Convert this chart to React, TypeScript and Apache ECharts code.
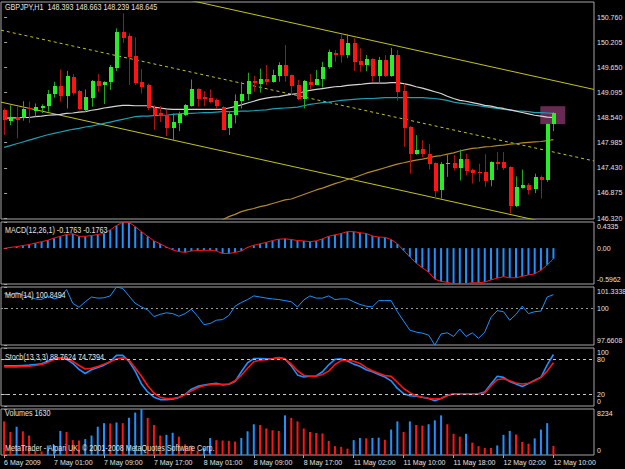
import React, { useEffect, useRef } from 'react';
import * as echarts from 'echarts';

// ---- time axis (H1 bars, one label every 8 bars) ----
const timeLabels = ['6 May 2009', '7 May 01:00', '7 May 09:00', '7 May 17:00', '8 May 01:00', '8 May 09:00', '8 May 17:00', '11 May 02:00', '11 May 10:00', '11 May 18:00', '12 May 02:00', '12 May 10:00'];
const labelBars = [0, 8, 16, 24, 32, 40, 48, 56, 64, 72, 80, 88];
const barSlots = 95; // visible slots incl. right-hand chart shift

// ---- GBPJPY H1 prices ----
const opens = [148.70,148.47,148.56,148.52,148.75,148.70,148.74,148.79,149.05,149.23,149.01,149.44,149.12,148.72,148.96,149.34,149.27,149.31,149.64,150.44,150.34,149.90,149.33,149.26,148.76,148.65,148.59,148.30,148.42,148.59,148.81,149.17,149.00,148.98,148.92,148.78,148.30,148.61,148.91,149.05,149.34,149.29,149.39,149.33,149.45,149.70,149.48,149.26,148.95,149.33,149.26,149.39,149.64,149.97,150.27,149.92,150.19,149.79,149.70,149.83,149.45,149.81,149.45,149.92,149.12,148.33,147.74,147.85,147.73,147.54,146.93,147.51,147.54,147.43,147.63,147.39,147.34,147.34,147.17,147.56,147.56,147.45,146.58,146.98,147.06,146.97,147.23,147.15,148.393];
const highs = [148.74,148.81,148.78,148.90,148.89,148.85,148.83,149.15,149.33,149.60,149.57,149.50,149.15,149.16,149.37,149.50,149.34,149.70,150.51,150.84,150.40,150.31,149.61,149.29,148.81,148.79,148.70,148.63,148.67,148.84,149.38,149.18,149.12,149.16,148.96,148.79,148.67,149.05,149.33,149.53,149.46,149.62,149.70,149.60,149.76,150.14,149.49,149.37,149.37,149.50,149.59,149.77,150.04,150.03,150.38,150.38,150.29,150.07,149.92,149.85,149.88,149.92,150.08,150.03,149.29,148.35,148.15,148.04,147.96,147.55,147.56,147.71,147.71,147.83,147.74,147.41,147.52,147.73,147.57,147.78,147.78,147.46,147.24,147.39,147.09,147.30,147.26,148.41,148.663];
const lows = [148.15,148.37,148.08,148.47,148.42,148.56,148.64,148.67,148.98,148.89,148.74,149.03,148.70,148.67,148.78,149.11,148.84,149.15,149.57,150.19,149.26,149.26,149.07,148.70,148.27,148.44,148.13,148.04,148.24,148.57,148.78,148.78,148.79,148.85,148.74,148.27,148.15,148.41,148.74,148.92,149.11,149.09,149.26,149.31,149.33,149.33,149.03,148.92,148.74,149.16,149.25,149.20,149.62,149.77,149.75,149.85,149.57,149.55,149.56,149.33,149.29,149.44,149.44,148.91,147.89,147.30,147.72,147.67,147.39,146.73,146.75,147.23,147.37,147.15,147.26,147.08,147.12,147.01,147.02,147.38,147.38,146.42,146.56,146.97,146.84,146.87,146.75,147.12,148.239];
const closes = [148.47,148.56,148.50,148.72,148.72,148.78,148.79,149.06,149.23,149.02,149.46,149.09,148.72,149.00,149.34,149.23,149.33,149.65,150.44,150.31,149.87,149.31,149.23,148.76,148.61,148.58,148.30,148.44,148.61,148.81,149.18,148.96,148.95,148.90,148.78,148.28,148.61,148.91,149.06,149.34,149.29,149.39,149.33,149.48,149.70,149.45,149.23,148.94,149.34,149.26,149.39,149.65,149.98,149.92,149.92,150.18,149.77,149.70,149.83,149.45,149.81,149.45,149.92,149.11,148.31,147.74,147.83,147.73,147.52,146.93,147.51,147.54,147.43,147.63,147.37,147.32,147.32,147.15,147.56,147.52,147.43,146.58,147.01,147.04,146.95,147.23,147.17,148.39,148.645];

// ---- moving averages on the price pane ----
const maWhite = [148.52,148.53,148.53,148.54,148.54,148.56,148.57,148.59,148.60,148.61,148.63,148.64,148.66,148.67,148.70,148.72,148.75,148.77,148.79,148.81,148.81,148.80,148.80,148.80,148.77,148.75,148.73,148.72,148.72,148.72,148.72,148.72,148.72,148.72,148.72,148.72,148.75,148.78,148.82,148.86,148.90,148.94,148.97,148.99,149.00,149.03,149.05,149.07,149.11,149.14,149.16,149.18,149.20,149.22,149.23,149.25,149.26,149.27,149.29,149.30,149.30,149.30,149.31,149.31,149.29,149.26,149.22,149.19,149.15,149.11,149.07,149.01,148.96,148.92,148.90,148.87,148.84,148.81,148.79,148.76,148.74,148.71,148.68,148.65,148.62,148.59,148.57,148.55,148.54];
const maTeal = [147.88,147.92,147.96,148.00,148.04,148.08,148.12,148.16,148.19,148.22,148.25,148.28,148.30,148.33,148.35,148.38,148.41,148.44,148.47,148.50,148.53,148.56,148.57,148.57,148.58,148.59,148.59,148.61,148.62,148.63,148.63,148.64,148.65,148.65,148.66,148.67,148.67,148.67,148.68,148.68,148.69,148.70,148.71,148.73,148.74,148.75,148.76,148.77,148.80,148.83,148.85,148.87,148.88,148.90,148.92,148.93,148.94,148.95,148.96,148.96,148.97,148.98,148.98,148.98,148.98,148.98,148.98,148.98,148.97,148.96,148.94,148.92,148.88,148.86,148.84,148.82,148.80,148.78,148.76,148.74,148.72,148.71,148.69,148.68,148.67,148.65,148.65,148.64,148.63];
const maGoldStart = 33;
const maGold = [146.16,146.23,146.28,146.35,146.40,146.46,146.50,146.53,146.57,146.60,146.64,146.68,146.72,146.74,146.79,146.84,146.89,146.94,146.98,147.03,147.08,147.12,147.17,147.21,147.26,147.31,147.35,147.39,147.43,147.47,147.51,147.54,147.57,147.60,147.62,147.65,147.68,147.70,147.73,147.76,147.80,147.83,147.86,147.87,147.89,147.90,147.92,147.93,147.95,147.96,147.98,147.99,148.00,148.01,148.03,148.05];

// ---- drawn objects: price channel (bar, price) end points and the highlight box ----
const channelUpper = [[-0.5, 152.05], [94.5, 149.16]];
const channelMid = [[-0.5, 150.47], [94.5, 147.58]];
const channelLower = [[-0.5, 148.88], [94.5, 145.99]];
const boxBars = [85.9, 89.9];
const boxPrices = [148.79, 148.393];

const priceRange = [146.298, 151.092];
const priceTicks = [146.32, 146.875, 147.43, 147.985, 148.54, 149.095, 149.65, 150.205, 150.76];

// ---- MACD(12,26,1) ----
const macdHist = [-0.006,0.012,0.024,0.042,0.059,0.083,0.107,0.131,0.166,0.196,0.226,0.238,0.196,0.196,0.208,0.226,0.243,0.303,0.374,0.4335,0.428,0.356,0.273,0.196,0.119,0.071,0.018,-0.030,-0.059,-0.071,-0.048,-0.042,-0.036,-0.036,-0.048,-0.089,-0.089,-0.071,-0.048,0.012,0.048,0.071,0.095,0.125,0.148,0.154,0.143,0.125,0.119,0.107,0.119,0.154,0.196,0.220,0.243,0.273,0.273,0.255,0.243,0.202,0.184,0.178,0.143,0.071,-0.042,-0.148,-0.249,-0.327,-0.398,-0.517,-0.552,-0.570,-0.590,-0.5962,-0.590,-0.576,-0.576,-0.564,-0.528,-0.499,-0.475,-0.493,-0.493,-0.469,-0.445,-0.428,-0.368,-0.279,-0.1763];
const macdTicks = [-0.5962, 0, 0.4335];

// ---- Momentum(14) ----
const momentum = [100.94,100.82,100.98,100.82,100.70,100.58,100.54,100.77,100.58,100.70,101.17,100.30,100.05,100.40,100.70,100.63,100.65,100.77,101.3338,101.24,100.77,100.30,100.07,99.88,99.46,99.60,99.70,99.65,99.48,99.65,99.93,99.48,98.95,99.02,99.23,99.27,99.53,100.12,100.35,100.54,100.77,100.70,100.63,100.58,100.54,100.47,100.40,100.07,100.51,100.77,100.63,100.63,100.77,100.54,100.58,100.58,100.40,100.23,100.12,100.07,100.47,100.47,100.47,99.77,99.18,98.60,98.48,98.41,98.29,97.6608,98.36,98.43,98.20,98.67,98.20,98.43,98.08,98.48,99.41,99.84,99.77,99.23,99.60,100.12,99.65,99.77,99.81,100.70,100.8494];
const momTicks = [97.6608, 100, 101.3338];

// ---- Stochastic(13,3,3) ----
const stochMain = [69.2,69.2,69.2,69.8,70.4,71.6,72.8,77,81.2,83,80.6,73.4,63.2,56,62.6,66.2,70.4,76.4,87.2,87.2,77,60.2,38,24.2,15.2,11,11,11.6,14.6,20,29,33.8,36.2,38,39.2,36.2,37.4,42.2,59,74.6,81.8,81.8,81.2,81.2,83.6,81.2,69.2,53.6,50,51.2,51.8,59,71,80.6,81.2,77.6,72.2,68.6,62.6,59,54.2,50,43.4,30.2,21.2,17.6,17,15.2,12.8,9.2,12.8,18.2,21.2,21.2,21.2,21.2,21.2,24.2,38,51.2,49.4,42.2,38,33.8,38.6,44.6,49.4,71,88.7624];
const stochSignal = [67.4,67.4,67.4,68,68.6,69.8,71.6,75.2,80,83,81.8,77,69.8,63.8,65,68,72.2,76.4,81.2,83,79.4,65.6,51.2,35,22.4,15.2,12.8,12.8,15.2,20,26,31.4,35,36.8,37.4,37.4,38,43.4,53,65,76.4,78.8,80,81.2,83,80.6,72.2,60.8,53,51.2,51.2,54.2,60.2,71.6,78.2,79.4,77,73.4,66.2,60.8,56.6,52.4,51.2,41,30.2,23,17.6,15.2,13.4,12.2,12.8,18.2,20.6,21.2,21.2,21.2,21.2,22.4,35,45.2,47,43.4,39.8,38,39.2,43.4,49.4,60.2,74.7394];
const stochTicks = [0, 20, 80, 100];
const stochLevels = [20, 80];

// ---- tick volumes ----
const volumes = [6014,4115,5064,4241,3482,760,633,1709,1772,4304,4115,2659,2595,2849,3482,5064,5697,5634,5824,5697,6647,7596,8234,6647,5381,3482,3608,3988,3292,1899,1709,760,1266,3038,2659,2595,2532,2405,3038,4241,5507,5381,4748,4431,4304,7090,6647,6014,4748,4115,3925,3861,2532,1583,1456,1139,2659,3038,2975,3038,3102,2722,4558,6014,4115,6014,5381,5254,5507,6203,7090,5507,3798,3292,3798,2216,1583,1266,1250,1709,3608,4304,3671,2342,2026,2975,4558,5697,1630];
const volTicks = [0, 8234];

// ---- styling ----
const FONT = "'Liberation Sans', Arial, sans-serif";
const FS = 8.5;         // pane captions (drawn condensed)
const CAPTION_SCALE = 0.845;
const FS_AXIS = 7;      // scale labels
const TXT = '#e2e2e2';
const FRAME = '#a4a4a4';
const BLUE = '#1e90ff';
const RED = '#ff1414';
const BULL_BODY = '#28ee28';
const BULL_WICK = '#1fa81f';
const BEAR_BODY = '#ff1414';
const BEAR_WICK = '#b01010';
const CHANNEL = '#c2c224';

const panes = [
  { top: 2, height: 217 },   // price
  { top: 222, height: 62 },  // MACD
  { top: 287, height: 58 },  // Momentum
  { top: 348, height: 58 },  // Stochastic
  { top: 409, height: 46 },  // Volumes
];

const last = opens.length - 1;
const indexed = (arr: number[], start = 0) => arr.map((v, i) => [i + start, v]);

function yAxisFor(gridIndex: number, min: number, max: number, ticks: number[], fmt: (v: number) => string, edgeAligned: boolean) {
  return {
    type: 'value',
    gridIndex,
    position: 'right',
    min,
    max,
    axisLine: { show: false },
    splitLine: { show: false },
    axisTick: { show: true, customValues: ticks, length: 3, lineStyle: { color: FRAME } },
    axisLabel: {
      show: true,
      customValues: ticks,
      showMinLabel: true,
      showMaxLabel: true,
      hideOverlap: false,
      margin: 3,
      color: TXT,
      fontSize: FS_AXIS,
      fontFamily: FONT,
      formatter: (v: number) => {
        const s = fmt(v);
        if (!edgeAligned) return s;
        if (Math.abs(v - max) < 1e-9) return `{top|${s}}`;
        if (Math.abs(v - min) < 1e-9) return `{bot|${s}}`;
        return s;
      },
      rich: {
        top: { padding: [9, 0, 0, 0], color: TXT, fontSize: FS_AXIS, fontFamily: FONT },
        bot: { padding: [0, 0, 9, 0], color: TXT, fontSize: FS_AXIS, fontFamily: FONT },
      },
    },
  };
}

function xAxisFor(gridIndex: number, withLabels: boolean) {
  return {
    type: 'value',
    gridIndex,
    min: -0.5,
    max: barSlots - 0.5,
    axisLine: { show: false },
    splitLine: { show: false },
    axisTick: withLabels
      ? { show: true, customValues: labelBars, length: 3, lineStyle: { color: FRAME } }
      : { show: false },
    axisLabel: withLabels
      ? {
          show: true,
          customValues: labelBars,
          showMinLabel: true,
          showMaxLabel: true,
          hideOverlap: false,
          align: 'left',
          margin: 4,
          color: TXT,
          fontSize: FS_AXIS,
          fontFamily: FONT,
          formatter: (v: number) => timeLabels[labelBars.indexOf(Math.round(v))] ?? '',
        }
      : { show: false },
  };
}

function lineSeries(name: string, data: number[][], xi: number, color: string, width: number, extra: any = {}) {
  return {
    name,
    type: 'line',
    xAxisIndex: xi,
    yAxisIndex: xi,
    data,
    symbol: 'none',
    showSymbol: false,
    silent: true,
    lineStyle: { color, width },
    z: 3,
    ...extra,
  };
}

function buildOption(): any {
  const candleData = opens.map((o, i) => [i, o, closes[i], lows[i], highs[i]]);

  const renderCandle = (params: any, api: any) => {
    const i = api.value(0);
    const o = api.value(1);
    const c = api.value(2);
    const l = api.value(3);
    const h = api.value(4);
    const pO = api.coord([i, o]);
    const pC = api.coord([i, c]);
    const pL = api.coord([i, l]);
    const pH = api.coord([i, h]);
    const up = c >= o;
    const cx = Math.round(pO[0]);
    const top = Math.round(Math.min(pO[1], pC[1]));
    const hgt = Math.max(1, Math.round(Math.abs(pO[1] - pC[1])));
    return {
      type: 'group',
      children: [
        {
          type: 'line',
          shape: { x1: cx + 0.5, y1: pH[1], x2: cx + 0.5, y2: pL[1] },
          style: { stroke: up ? BULL_WICK : BEAR_WICK, lineWidth: 1 },
        },
        {
          type: 'rect',
          shape: { x: cx - 1, y: top, width: 4, height: hgt },
          style: { fill: up ? BULL_BODY : BEAR_BODY },
        },
      ],
    };
  };

  const lastPrice = closes[last];
  const title = `GBPJPY,H1  ${opens[last].toFixed(3)} ${highs[last].toFixed(3)} ${lows[last].toFixed(3)} ${closes[last].toFixed(3)}`;
  const macdLast = macdHist[last].toFixed(4);
  const text = (t: string, x: number, y: number) => ({
    type: 'text',
    x,
    y,
    scaleX: CAPTION_SCALE,
    silent: true,
    z: 50,
    style: { text: t, fill: TXT, fontSize: FS, fontFamily: FONT, align: 'left', verticalAlign: 'top' },
  });

  return {
    animation: false,
    backgroundColor: '#000000',
    grid: panes.map((p) => ({
      left: 1,
      right: 31,
      top: p.top,
      height: p.height,
      outerBoundsMode: 'none',
      containLabel: false,
      show: true,
      borderColor: FRAME,
      borderWidth: 1,
      backgroundColor: '#000000',
    })),
    xAxis: panes.map((_, k) => xAxisFor(k, k === panes.length - 1)),
    yAxis: [
      yAxisFor(0, priceRange[0], priceRange[1], priceTicks, (v) => v.toFixed(3), false),
      yAxisFor(1, macdTicks[0], macdTicks[2], macdTicks, (v) => (Math.abs(v) < 1e-9 ? '0.00' : v.toFixed(4)), true),
      yAxisFor(2, momTicks[0], momTicks[2], momTicks, (v) => (Math.abs(v - 100) < 1e-9 ? '100' : v.toFixed(4)), true),
      yAxisFor(3, 0, 100, stochTicks, (v) => String(Math.round(v)), true),
      yAxisFor(4, 0, volTicks[1], volTicks, (v) => String(Math.round(v)), true),
    ],
    graphic: [
      text(title, 5, 3),
      text(`MACD(12,26,1) ${macdLast} ${macdLast}`, 5, 226),
      text(`Mom(14) ${momentum[last].toFixed(4)}`, 5, 291),
      text(`Stoch(13,3,3) ${stochMain[last].toFixed(4)} ${stochSignal[last].toFixed(4)}`, 5, 353),
      text(`Volumes ${volumes[last]}`, 5, 409),
      text('MetaTrader - Alpari UK, \u00a9 2001-2008 MetaQuotes Software Corp.', 5, 444),
    ],
    series: [
      // price channel + highlight box
      lineSeries('channel-lower', channelLower, 0, CHANNEL, 1, {
        z: 2,
        markArea: {
          silent: true,
          itemStyle: { color: '#682a52' },
          data: [[{ coord: [boxBars[0], boxPrices[0]] }, { coord: [boxBars[1], boxPrices[1]] }]],
        },
      }),
      lineSeries('channel-upper', channelUpper, 0, CHANNEL, 1, { z: 2 }),
      lineSeries('channel-mid', channelMid, 0, CHANNEL, 1, { z: 2, lineStyle: { color: CHANNEL, width: 1, type: [3, 3] } }),
      // moving averages
      lineSeries('ma-gold', indexed(maGold, maGoldStart), 0, '#b3892c', 1.2),
      lineSeries('ma-teal', indexed(maTeal), 0, '#1f9fb2', 1.2),
      lineSeries('ma-white', indexed(maWhite), 0, '#d6d6d6', 1.2),
      // candles
      {
        name: 'GBPJPY',
        type: 'custom',
        xAxisIndex: 0,
        yAxisIndex: 0,
        data: candleData,
        encode: { x: 0, y: [1, 2, 3, 4] },
        renderItem: renderCandle,
        clip: true,
        silent: true,
        z: 5,
      },
      // last price tag on the price scale
      {
        name: 'last-price',
        type: 'line',
        xAxisIndex: 0,
        yAxisIndex: 0,
        data: [],
        clip: false,
        silent: true,
        z: 20,
        markLine: {
          silent: true,
          symbol: 'none',
          lineStyle: { width: 0, opacity: 0 },
          data: [{ yAxis: lastPrice }],
          label: {
            show: true,
            position: 'end',
            distance: 1,
            formatter: lastPrice.toFixed(3),
            backgroundColor: '#ffffff',
            color: '#000000',
            fontSize: FS_AXIS,
            fontFamily: FONT,
            padding: [1, 1, 0, 2],
          },
        },
      },
      // MACD
      {
        name: 'macd-hist',
        type: 'bar',
        xAxisIndex: 1,
        yAxisIndex: 1,
        data: indexed(macdHist),
        barWidth: 2,
        silent: true,
        itemStyle: { color: BLUE },
      },
      lineSeries('macd-signal', indexed(macdHist), 1, RED, 1),
      // Momentum
      lineSeries('momentum', indexed(momentum), 2, BLUE, 1, {
        markLine: {
          silent: true,
          symbol: 'none',
          label: { show: false },
          lineStyle: { color: '#9a9a9a', width: 1, type: [2, 3] },
          data: [{ yAxis: 100 }],
        },
      }),
      // Stochastic
      lineSeries('stoch-main', indexed(stochMain), 3, BLUE, 1.6, {
        markLine: {
          silent: true,
          symbol: 'none',
          label: { show: false },
          lineStyle: { color: '#c8c8c8', width: 1, type: [3, 3] },
          data: stochLevels.map((v) => ({ yAxis: v })),
        },
      }),
      lineSeries('stoch-signal', indexed(stochSignal), 3, RED, 1.6, { z: 4 }),
      // Volumes: blue when above the previous bar, red otherwise
      {
        name: 'volumes',
        type: 'bar',
        xAxisIndex: 4,
        yAxisIndex: 4,
        barWidth: 2,
        silent: true,
        data: volumes.map((v, i) => ({
          value: [i, v],
          itemStyle: { color: i > 0 && v > volumes[i - 1] ? BLUE : RED },
        })),
      },
    ],
  };
}

export default function App() {
  const ref = useRef<HTMLDivElement>(null);
  useEffect(() => {
    document.body.style.margin = '0';
    document.body.style.background = '#000';
    const chart = echarts.init(ref.current!, null, { renderer: 'svg' });
    chart.setOption(buildOption());
    return () => chart.dispose();
  }, []);
  return <div ref={ref} style={{ width: 625, height: 469, background: '#000' }} />;
}
